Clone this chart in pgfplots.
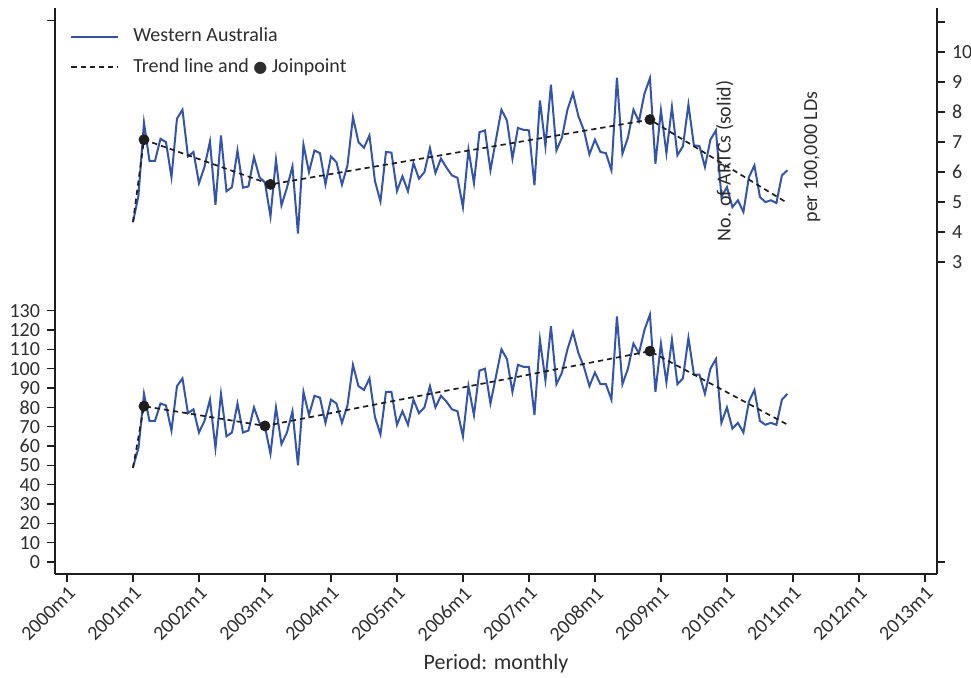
\documentclass[border=0pt]{standalone}
\usepackage{fontspec}
\setmainfont{Carlito}
\newfontfamily\symfont{DejaVu Sans}
\usepackage{pgfplots}
\usepackage{pgfplotstable}
\pgfplotsset{compat=1.18}

\definecolor{wablue}{RGB}{52,84,170}
\definecolor{txt}{RGB}{45,45,45}
\definecolor{trendcol}{RGB}{30,30,30}

% Monthly ART cycles, Western Australia (m = months since 2000m1)
\pgfplotstableread{
m v
12 49
13 59
14 87
15 73
16 73
17 82
18 81
19 68
20 91
21 95
22 77
23 79
24 67
25 73
26 84
27 59
28 87
29 65
30 67
31 82
32 67
33 68
34 80
35 72
36 70
37 56
38 80
39 61
40 67
41 78
42 50
43 88
44 76
45 86
46 85
47 72
48 84
49 82
50 72
51 81
52 102
53 91
54 89
55 95
56 75
57 66
58 88
59 88
60 71
61 78
62 71
63 84
64 77
65 80
66 91
67 80
68 86
69 83
70 79
71 78
72 65
73 91
74 76
75 99
76 100
77 82
78 96
79 110
80 105
81 88
82 102
83 101
84 101
85 76
86 115
87 94
88 122
89 92
90 98
91 110
92 119
93 108
94 101
95 91
96 98
97 92
98 92
99 84
100 127
101 92
102 100
103 113
104 108
105 120
106 128
107 88
108 113
109 93
110 115
111 92
112 95
113 116
114 97
115 97
116 87
117 100
118 105
119 72
120 80
121 69
122 72
123 67
124 83
125 89
126 73
127 71
128 72
129 71
130 84
131 87
}\counts

% Rate per 100,000 LDs
\pgfplotstableread{
m r
12 4.33
13 5.22
14 7.65
15 6.37
16 6.37
17 7.11
18 7.00
19 5.83
20 7.78
21 8.08
22 6.52
23 6.67
24 5.63
25 6.17
26 7.02
27 4.91
28 7.22
29 5.36
30 5.50
31 6.72
32 5.48
33 5.52
34 6.50
35 5.83
36 5.65
37 4.52
38 6.41
39 4.89
40 5.48
41 6.19
42 3.95
43 6.92
44 6.00
45 6.72
46 6.63
47 5.59
48 6.52
49 6.33
50 5.58
51 6.22
52 7.83
53 7.00
54 6.81
55 7.22
56 5.70
57 5.02
58 6.67
59 6.65
60 5.37
61 5.86
62 5.36
63 6.30
64 5.78
65 6.00
66 6.80
67 5.97
68 6.45
69 6.15
70 5.89
71 5.81
72 4.83
73 6.75
74 5.63
75 7.33
76 7.39
77 6.06
78 7.08
79 8.08
80 7.72
81 6.45
82 7.47
83 7.41
84 7.39
85 5.56
86 8.39
87 6.86
88 8.91
89 6.72
90 7.15
91 8.08
92 8.63
93 7.86
94 7.39
95 6.59
96 7.08
97 6.67
98 6.63
99 6.06
100 9.15
101 6.61
102 7.15
103 8.08
104 7.69
105 8.61
106 9.13
107 6.28
108 8.06
109 6.63
110 8.17
111 6.56
112 6.86
113 8.25
114 6.89
115 6.87
116 6.17
117 7.08
118 7.39
119 5.17
120 5.50
121 4.83
122 5.06
123 4.67
124 5.83
125 6.22
126 5.17
127 5.00
128 5.06
129 4.97
130 5.89
131 6.06
}\rates

% Joinpoint trend segments
\pgfplotstableread{
m v
12 48.7
14 80.6
36 70.4
106 109.1
131 71.1
}\counttrend
\pgfplotstableread{
m v
14 80.6
36 70.4
106 109.1
}\countjp
\pgfplotstableread{
m r
12 4.33
14 7.08
37 5.59
106 7.75
131 4.97
}\ratetrend
\pgfplotstableread{
m r
14 7.08
37 5.59
106 7.75
}\ratejp

\pgfplotsset{
  common/.style={
    scale only axis, width=441pt, height=283pt,
    at={(0,0)}, anchor=south west,
    xmin=-2.18, xmax=158.2,
    tick align=outside, major tick length=4pt,
    tick label style={font=\fontsize{10}{12}\selectfont, text=txt},
    /pgf/number format/assume math mode=true,
    clip=false,
  },
  plainlines/.style={
    axis line style={draw=trendcol, line width=0.65pt},
    every outer x axis line/.append style={-},
    every outer y axis line/.append style={-},
    every inner x axis line/.append style={-},
    every inner y axis line/.append style={-},
    every tick/.style={draw=trendcol, line width=0.65pt},
  },
  trend/.style={trendcol, line width=0.85pt, dash pattern=on 2.6pt off 2pt},
  jp/.style={only marks, mark=*, mark size=2.5pt, draw=trendcol, fill=trendcol},
}

\begin{document}
\begin{tikzpicture}
\begin{axis}[common,
  axis x line*=bottom, axis y line*=left,
  xtick pos=bottom, ytick pos=left,
  plainlines,
  ymin=-6.2, ymax=286.6,
  ytick={0,10,...,130}, extra y ticks={280}, extra y tick labels={},
  xtick={0,12,...,156},
  xticklabels={2000m1,2001m1,2002m1,2003m1,2004m1,2005m1,2006m1,2007m1,2008m1,2009m1,2010m1,2011m1,2012m1,2013m1},
  xticklabel style={rotate=45, anchor=north east, inner sep=1pt},
  xlabel={Period: monthly},
  xlabel style={at={(axis description cs:0.5,-0.159)}, anchor=center, font=\fontsize{11}{13}\selectfont, text=txt},
  legend image code/.code={\draw[#1] (0pt,0pt) -- (23.5pt,0pt);},
  legend cell align=left,
  legend style={at={(axis description cs:0,1)}, anchor=north west,
    xshift=7.5pt, yshift=-8.7pt, draw=none, fill=none, inner sep=0pt,
    font=\fontsize{10}{12}\selectfont, text=txt,
    nodes={inner sep=0pt, text height=8pt, text depth=3pt},
    row sep=4.25pt,
    /tikz/every odd column/.append style={column sep=7pt}},
]
\addplot[wablue, line width=1pt] table[x=m, y=v] {\counts};
\addlegendentry{Western Australia}
\addplot[trend] table[x=m, y=v] {\counttrend};
\addlegendentry{Trend line and {\symfont\fontsize{8}{10}\selectfont ●} Joinpoint}
\addplot[jp, forget plot] table[x=m, y=v] {\countjp};
\end{axis}

\begin{axis}[common,
  axis x line=none, axis y line*=right, ytick pos=right,
  plainlines,
  ymin=-7.4, ymax=11.47,
  ytick={3,...,10}, extra y ticks={-7,11}, extra y tick labels={},
]
\addplot[wablue, line width=1pt] table[x=m, y=r] {\rates};
\addplot[trend] table[x=m, y=r] {\ratetrend};
\addplot[jp] table[x=m, y=r] {\ratejp};
\node[rotate=90, font=\fontsize{10}{12}\selectfont, text=txt] at (axis cs:119.6,6.37) {No. of ARTCs (solid)};
\node[rotate=90, font=\fontsize{10}{12}\selectfont, text=txt] at (axis cs:135.5,6.5) {per 100,000 LDs};
\end{axis}
\pgfresetboundingbox
\path[use as bounding box] (-27.5pt,-51.5pt) rectangle (458pt,287pt);
\end{tikzpicture}
\end{document}
